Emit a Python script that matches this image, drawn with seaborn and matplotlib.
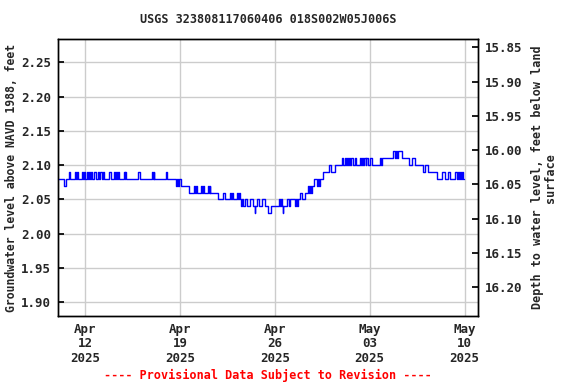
import pandas as pd
import seaborn as sns
import matplotlib.pyplot as plt
import matplotlib.dates as mdates

# Step breakpoints: days after 2025-04-12 00:00 and level (ft above NAVD 1988)
days = [
    -1.99, -1.55, -1.40, -1.18, -1.14, -0.74, -0.66, -0.63, -0.52, -0.22, -0.15, -0.07, 0.00,
    0.15, 0.22, 0.29, 0.37, 0.44, 0.52, 0.66, 0.81, 0.96, 1.03, 1.11, 1.25, 1.33, 1.40,
    1.77, 1.92, 2.14, 2.21, 2.28, 2.36, 2.43, 2.47, 2.87, 2.95, 2.98, 3.02, 3.91, 4.05,
    4.94, 5.01, 5.05, 5.08, 5.97, 6.01,
    6.71, 6.78, 6.85, 6.93, 7.07, 7.66, 8.03, 8.11, 8.18, 8.25, 8.58, 8.66, 8.73, 8.77,
    9.06, 9.14, 9.21, 9.25, 9.80, 10.17, 10.32, 10.69, 10.76, 10.83, 10.91,
    11.20, 11.27, 11.35, 11.42, 11.50, 11.57, 11.64, 11.79, 11.94, 12.16, 12.38,
    12.53, 12.56, 12.67, 12.82, 13.04, 13.26, 13.49, 13.71,
    14.30, 14.37, 14.44, 14.52, 14.59, 14.63, 14.89, 15.03, 15.11,
    15.47, 15.55, 15.62, 15.70, 15.84, 16.03, 16.21,
    16.43, 16.51, 16.58, 16.65, 16.73, 16.88, 17.10, 17.17, 17.24, 17.32, 17.54,
    17.98, 18.13, 18.42,
    18.94, 19.01, 19.16, 19.23, 19.31, 19.38, 19.45, 19.53, 19.60, 19.75, 19.90, 19.97,
    20.26, 20.34, 20.41, 20.49, 20.56, 20.71, 20.74, 20.85, 21.00, 21.15,
    21.74, 21.81, 21.89, 22.70, 22.84, 22.92, 22.99, 23.07, 23.36,
    23.88, 24.10, 24.32, 24.91, 25.05, 25.28, 25.94,
    26.31, 26.53, 26.75, 26.90, 27.27, 27.41, 27.49, 27.56, 27.63, 27.71, 27.78, 27.86, 27.93,
]
levels = [
    2.08, 2.07, 2.08, 2.09, 2.08, 2.09, 2.08, 2.09, 2.08, 2.09, 2.08, 2.09, 2.08,
    2.09, 2.08, 2.09, 2.08, 2.09, 2.08, 2.09, 2.08, 2.09, 2.08, 2.09, 2.08, 2.09, 2.08,
    2.09, 2.08, 2.09, 2.08, 2.09, 2.08, 2.09, 2.08, 2.09, 2.08, 2.09, 2.08, 2.09, 2.08,
    2.09, 2.08, 2.09, 2.08, 2.09, 2.08,
    2.07, 2.08, 2.07, 2.08, 2.07, 2.06, 2.07, 2.06, 2.07, 2.06, 2.07, 2.06, 2.07, 2.06,
    2.07, 2.06, 2.07, 2.06, 2.05, 2.06, 2.05, 2.06, 2.05, 2.06, 2.05,
    2.06, 2.05, 2.06, 2.05, 2.04, 2.05, 2.04, 2.05, 2.04, 2.05, 2.04,
    2.03, 2.04, 2.05, 2.04, 2.05, 2.04, 2.03, 2.04,
    2.05, 2.04, 2.05, 2.04, 2.03, 2.04, 2.05, 2.04, 2.05,
    2.04, 2.05, 2.04, 2.05, 2.06, 2.05, 2.06,
    2.07, 2.06, 2.07, 2.06, 2.07, 2.08, 2.07, 2.08, 2.07, 2.08, 2.09,
    2.10, 2.09, 2.10,
    2.11, 2.10, 2.11, 2.10, 2.11, 2.10, 2.11, 2.10, 2.11, 2.10, 2.11, 2.10,
    2.11, 2.10, 2.11, 2.10, 2.11, 2.10, 2.11, 2.10, 2.11, 2.10,
    2.11, 2.10, 2.11, 2.12, 2.11, 2.12, 2.11, 2.12, 2.11,
    2.10, 2.11, 2.10, 2.09, 2.10, 2.09, 2.08,
    2.09, 2.08, 2.09, 2.08, 2.09, 2.08, 2.09, 2.08, 2.09, 2.08, 2.09, 2.08, 2.08,
]

tick_dates = ["2025-04-12", "2025-04-19", "2025-04-26", "2025-05-03", "2025-05-10"]
left_ticks = [1.90, 1.95, 2.00, 2.05, 2.10, 2.15, 2.20, 2.25]
right_ticks = [15.85, 15.90, 15.95, 16.00, 16.05, 16.10, 16.15, 16.20]
land_surface = 18.122  # depth = land_surface - level
ylim = (1.8798, 2.2838)

base = pd.Timestamp("2025-04-12")
df = pd.DataFrame({
    "time": [base + pd.Timedelta(days=d) for d in days],
    "level": levels,
})

sns.set_theme(style="whitegrid")
plt.rcParams['font.family'] = ['DejaVu Sans Mono', 'DejaVu Sans']
plt.rcParams['font.weight'] = 'bold'

fig = plt.figure(figsize=(5.76, 3.84), dpi=100)
ax = fig.add_axes([0.1007, 0.177, 0.7293, 0.721])

sns.lineplot(data=df, x="time", y="level", ax=ax, color="#0000ff", linewidth=1,
             drawstyle="steps-post", estimator=None)

ax.set_xlim(pd.Timestamp("2025-04-10"), pd.Timestamp("2025-05-11"))
ax.set_ylim(*ylim)
ax.set_xticks([pd.Timestamp(t) for t in tick_dates])
ax.xaxis.set_major_formatter(mdates.DateFormatter("%b\n%d\n%Y"))
ax.set_yticks(left_ticks)
ax.yaxis.set_major_formatter(plt.FormatStrFormatter("%.2f"))

ax.grid(True, color="#cccccc", linewidth=1)
for s in ax.spines.values():
    s.set_color("black")
    s.set_linewidth(1)

ax.tick_params(axis="y", left=True, right=False, direction="in", length=4,
               color="black", labelsize=9, pad=5)
ax.tick_params(axis="x", direction="in", length=0, labelsize=9, pad=5)
for lbl in ax.get_xticklabels():
    lbl.set_horizontalalignment("center")
    lbl.set_linespacing(1.15)

ax.set_xlabel("")
ax.set_ylabel("Groundwater level above NAVD 1988, feet", fontsize=8.3, fontweight="bold", labelpad=2)

ax2 = ax.twinx()
ax2.set_ylim(land_surface - ylim[0], land_surface - ylim[1])
ax2.set_yticks(right_ticks)
ax2.yaxis.set_major_formatter(plt.FormatStrFormatter("%.2f"))
ax2.grid(False)
ax2.tick_params(axis="y", left=False, right=True, direction="in", length=4,
                color="black", labelsize=9, pad=5)
for s in ax2.spines.values():
    s.set_color("black")
    s.set_linewidth(1)
ax2.set_ylabel("Depth to water level, feet below land\nsurface", fontsize=8.5,
               fontweight="bold", linespacing=1.0, labelpad=6)

ax.set_title("USGS 323808117060406 018S002W05J006S", fontsize=8.5, fontweight="bold", pad=12)
fig.text(0.465, 0.012, "---- Provisional Data Subject to Revision ----", color="red",
         fontsize=8.5, fontweight="bold", ha="center")

fig.savefig("out.png", dpi=100)
